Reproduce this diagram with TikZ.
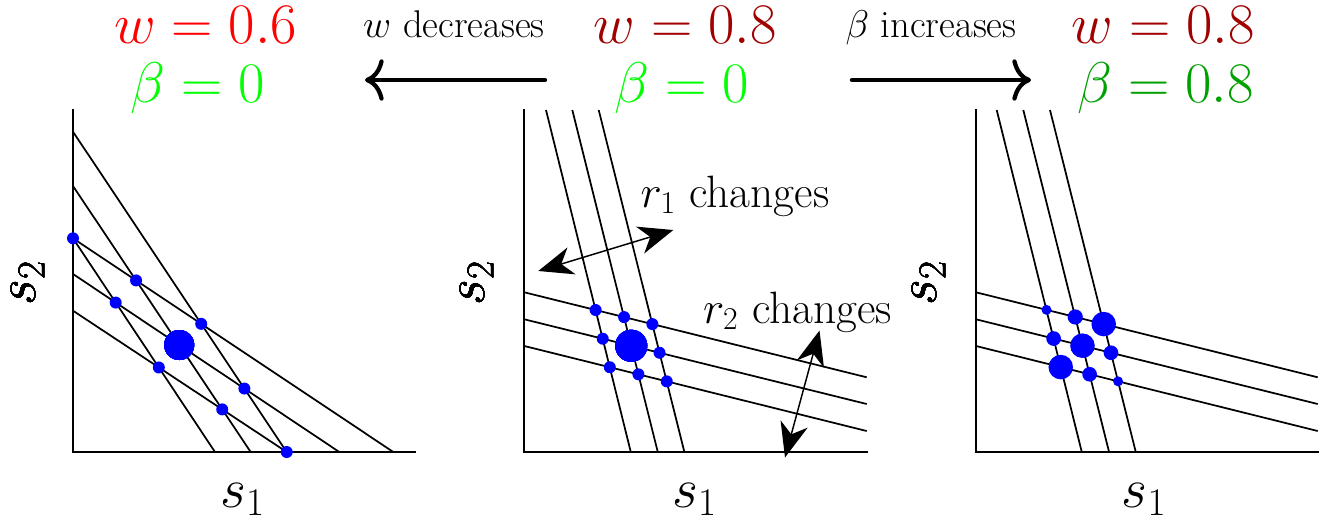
\RequirePackage{fix-cm}
\documentclass[tikz,border=0pt]{standalone}
\usetikzlibrary{arrows.meta}
\definecolor{wred}{RGB}{255,0,0}
\definecolor{wdark}{RGB}{160,0,0}
\definecolor{blight}{RGB}{0,255,0}
\definecolor{bdark}{RGB}{0,160,0}
\definecolor{dotblue}{RGB}{0,0,255}
\tikzset{
  axisline/.style={line width=1.5pt, line cap=rect},
  ln/.style={line width=1.3pt},
  bigtxt/.style={inner sep=0pt, anchor=base, font=\fontsize{43}{50}\selectfont},
  midtxt/.style={inner sep=0pt, anchor=base, font=\fontsize{29}{34}\selectfont},
  axtxt/.style={inner sep=0pt, font=\fontsize{42}{48}\selectfont},
  chtxt/.style={inner sep=0pt, anchor=base, font=\fontsize{34}{40}\selectfont},
  toparrow/.style={line width=3.2pt, line cap=round, -{Computer Modern Rightarrow[length=14pt,width=31pt,line width=3.2pt]}},
  dblarrow/.style={line width=1.1pt, {Stealth[length=26pt,width=21pt,inset=8pt]}-{Stealth[length=26pt,width=21pt,inset=8pt]}},
}
\newcommand\idot[3]{\fill[dotblue] (intersection of #1 and #2) circle[radius=#3];}
\begin{document}
\begin{tikzpicture}[x=0.75pt,y=-0.75pt]
\useasboundingbox (0,0) rectangle (1332,522);

% ---------- top labels ----------
\node[bigtxt, text=wred] (wL) at (205.5,43) {$w=0.6$};
\node[bigtxt, text=blight] (bL) at (197.5,102) {$\beta=0$};
\node[bigtxt, text=wdark] (wM) at (685,43) {$w=0.8$};
\node[bigtxt, text=blight] (bM) at (682,102) {$\beta=0$};
\node[bigtxt, text=wdark] (wR) at (1163,43) {$w=0.8$};
\node[bigtxt, text=bdark] (bR) at (1165.5,102) {$\beta=0.8$};
\node[midtxt] (wdec) at (454,37) {$w$ decreases};
\node[midtxt] (binc) at (931,37) {$\beta$ increases};
\coordinate (la1) at (545,80); \coordinate (la2) at (365,80);
\coordinate (ra1) at (852,80); \coordinate (ra2) at (1031,80);
\draw[toparrow] (la1) -- (la2);
\draw[toparrow] (ra1) -- (ra2);

% ---------- left panel ----------
\coordinate (A1t) at (73,110); \coordinate (A1o) at (73,452); \coordinate (A1r) at (415,452);
\draw[axisline] (A1t) -- (A1o) -- (A1r);
\coordinate (p1a) at (73,131.7); \coordinate (q1a) at (286.7,452);
\coordinate (p1b) at (73,186);   \coordinate (q1b) at (250.7,452);
\coordinate (p1c) at (73,238.3); \coordinate (q1c) at (215,452);
\coordinate (p1d) at (73,238.3); \coordinate (q1d) at (393.3,452);
\coordinate (p1e) at (73,274);   \coordinate (q1e) at (339.3,452);
\coordinate (p1f) at (73,310.7); \coordinate (q1f) at (286.7,452);
\foreach \k in {a,b,c,d,e,f} \draw[ln] (p1\k) -- (q1\k);
\foreach \s in {a,b,c} \foreach \h in {d,e,f}
  \idot{p1\s--q1\s}{p1\h--q1\h}{4.5pt}
\idot{p1b--q1b}{p1e--q1e}{11.25pt}
\node[axtxt, rotate=90] (s2L) at (28,283) {$s_2$};
\node[axtxt, anchor=base] (s1L) at (242.5,507) {$s_1$};

% ---------- middle panel ----------
\coordinate (A2t) at (524.3,110); \coordinate (A2o) at (524.3,451.7); \coordinate (A2r) at (866.7,451.7);
\draw[axisline] (A2t) -- (A2o) -- (A2r);
\coordinate (p2a) at (546,110);     \coordinate (q2a) at (630.7,451.7);
\coordinate (p2b) at (572.3,110);   \coordinate (q2b) at (657.7,451.7);
\coordinate (p2c) at (598.7,110);   \coordinate (q2c) at (684.3,451.7);
\coordinate (p2d) at (524.3,292.3); \coordinate (q2d) at (866.7,377.3);
\coordinate (p2e) at (524.3,319.3); \coordinate (q2e) at (866.7,404);
\coordinate (p2f) at (524.3,346);   \coordinate (q2f) at (866.7,431);
\foreach \k in {a,b,c,d,e,f} \draw[ln] (p2\k) -- (q2\k);
\foreach \s in {a,b,c} \foreach \h in {d,e,f}
  \idot{p2\s--q2\s}{p2\h--q2\h}{4.5pt}
\idot{p2b--q2b}{p2e--q2e}{12pt}
\node[axtxt, rotate=90] (s2M) at (477,283) {$s_2$};
\node[axtxt, anchor=base] (s1M) at (694.5,507) {$s_1$};
\node[chtxt] (r1c) at (735,207) {$r_1$ changes};
\node[chtxt] (r2c) at (797.5,323) {$r_2$ changes};
\coordinate (r1a) at (538.3,271); \coordinate (r1b) at (673.3,230);
\coordinate (r2a) at (819.5,330.5); \coordinate (r2b) at (785,457.5);
\draw[dblarrow] (r1a) -- (r1b);
\draw[dblarrow] (r2a) -- (r2b);

% ---------- right panel ----------
\coordinate (A3t) at (976,110); \coordinate (A3o) at (976,451.7); \coordinate (A3r) at (1317.7,451.7);
\draw[axisline] (A3t) -- (A3o) -- (A3r);
\coordinate (p3a) at (996.7,110);  \coordinate (q3a) at (1081.7,451.7);
\coordinate (p3b) at (1023.3,110); \coordinate (q3b) at (1109,451.7);
\coordinate (p3c) at (1050,110);   \coordinate (q3c) at (1135.7,451.7);
\coordinate (p3d) at (976,292.3);  \coordinate (q3d) at (1317.7,377.3);
\coordinate (p3e) at (976,319.3);  \coordinate (q3e) at (1317.7,404);
\coordinate (p3f) at (976,346);    \coordinate (q3f) at (1317.7,431);
\foreach \k in {a,b,c,d,e,f} \draw[ln] (p3\k) -- (q3\k);
\foreach \s/\h/\r in {a/d/3.75pt, b/d/5.7pt, c/d/9.2pt,
                      a/e/5.5pt, b/e/9.2pt, c/e/5.5pt,
                      a/f/9.2pt, b/f/5.5pt, c/f/3.75pt}
  \idot{p3\s--q3\s}{p3\h--q3\h}{\r}
\node[axtxt, rotate=90] (s2R) at (929,283) {$s_2$};
\node[axtxt, anchor=base] (s1R) at (1144,507) {$s_1$};
\end{tikzpicture}
\end{document}
